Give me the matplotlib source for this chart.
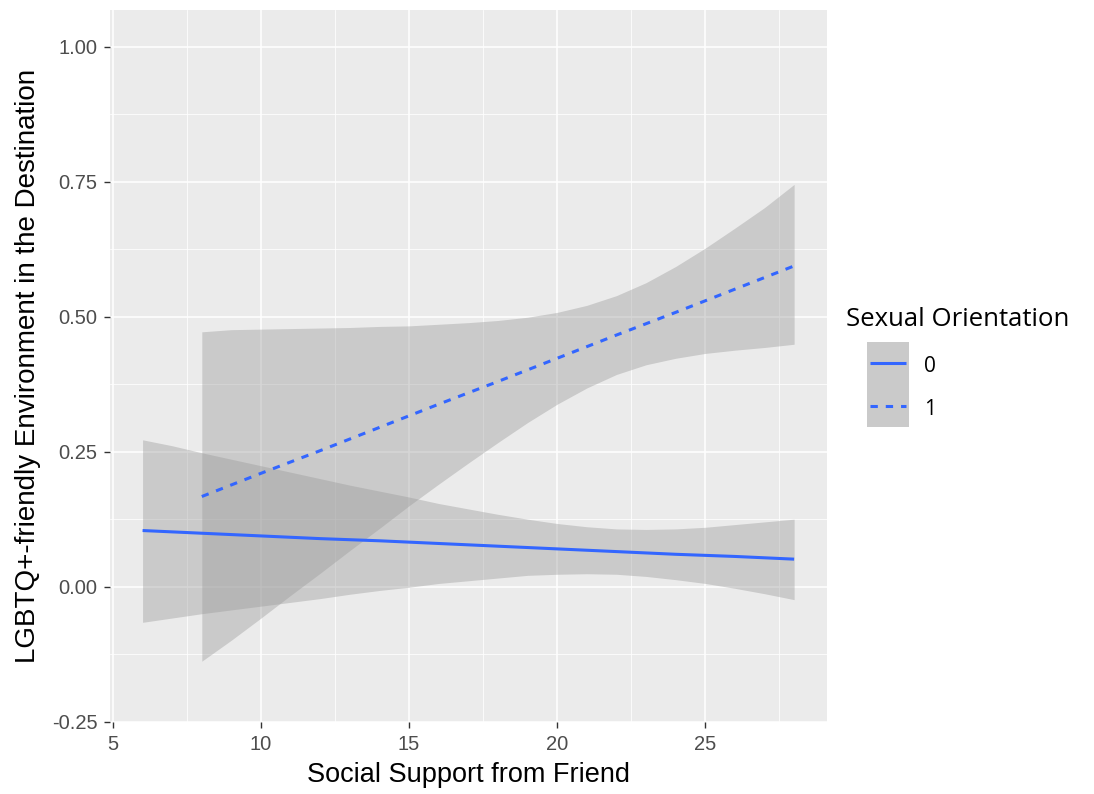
import matplotlib
matplotlib.use("Agg")
import matplotlib.pyplot as plt
from matplotlib.ticker import MultipleLocator, FixedLocator
from matplotlib.patches import Rectangle
from matplotlib.lines import Line2D

# Fitted values and 95% confidence band, sexual orientation = 0
friend_support_0 = [6, 7, 8, 9, 10, 11, 12, 13, 14, 15, 16, 17,
                    18, 19, 20, 21, 22, 23, 24, 25, 26, 27, 28]
fit_0 = [0.104, 0.1015, 0.099, 0.0965, 0.094, 0.0915, 0.089, 0.087, 0.085, 0.0825, 0.080, 0.0775,
         0.075, 0.0725, 0.070, 0.0675, 0.065, 0.0625, 0.060, 0.058, 0.056, 0.0535, 0.051]
upper_0 = [0.272, 0.261, 0.248, 0.236, 0.224, 0.212, 0.200, 0.188, 0.177, 0.166, 0.154, 0.144,
           0.134, 0.125, 0.117, 0.111, 0.107, 0.106, 0.107, 0.110, 0.115, 0.120, 0.125]
lower_0 = [-0.066, -0.058, -0.050, -0.043, -0.036, -0.029, -0.022, -0.014, -0.007, -0.001, 0.006, 0.011,
           0.016, 0.021, 0.023, 0.024, 0.023, 0.019, 0.013, 0.006, -0.003, -0.013, -0.024]

# Fitted values and 95% confidence band, sexual orientation = 1
friend_support_1 = [8, 9, 10, 11, 12, 13, 14, 15, 16, 17, 18,
                    19, 20, 21, 22, 23, 24, 25, 26, 27, 28]
fit_1 = [0.167, 0.1885, 0.210, 0.231, 0.252, 0.2735, 0.295, 0.3165, 0.338, 0.359, 0.380,
         0.4015, 0.423, 0.4445, 0.466, 0.487, 0.508, 0.5295, 0.551, 0.5725, 0.594]
upper_1 = [0.472, 0.476, 0.477, 0.478, 0.479, 0.480, 0.482, 0.483, 0.486, 0.489, 0.493,
           0.499, 0.508, 0.521, 0.539, 0.563, 0.593, 0.627, 0.664, 0.702, 0.745]
lower_1 = [-0.138, -0.099, -0.058, -0.016, 0.025, 0.067, 0.108, 0.150, 0.190, 0.229, 0.267,
           0.304, 0.338, 0.368, 0.393, 0.411, 0.423, 0.432, 0.438, 0.443, 0.449]

x_ticks = [5, 10, 15, 20, 25]
x_tick_labels = ["5", "10", "15", "20", "25"]
y_ticks = [-0.25, 0.0, 0.25, 0.50, 0.75, 1.00]
y_tick_labels = ["-0.25", "0.00", "0.25", "0.50", "0.75", "1.00"]
orientation_levels = ["0", "1"]

LINE = "#3366FF"
FILL = "#999999"
PANEL = "#EBEBEB"
W, H = 1094, 794

fig = plt.figure(figsize=(W / 100, H / 100), dpi=100)
fig.patch.set_facecolor("white")

left, right, top, bottom = 110, 826.7, 10, 722
ax = fig.add_axes([left / W, 1 - bottom / H, (right - left) / W, (bottom - top) / H])
ax.set_facecolor(PANEL)
for s in ax.spines.values():
    s.set_visible(False)

ax.set_xlim(4.9, 29.1)
ax.set_ylim(-0.2506, 1.068)

ax.xaxis.set_major_locator(FixedLocator(x_ticks))
ax.set_xticklabels(x_tick_labels)
ax.xaxis.set_minor_locator(MultipleLocator(2.5))
ax.yaxis.set_major_locator(FixedLocator(y_ticks))
ax.set_yticklabels(y_tick_labels)
ax.yaxis.set_minor_locator(MultipleLocator(0.125))

ax.set_axisbelow(True)
ax.grid(which="major", color="white", linewidth=1.1)
ax.grid(which="minor", color="white", linewidth=0.55)

ax.tick_params(which="major", length=4, width=1.0, color="#333333",
               labelcolor="#4D4D4D", labelsize=14.5, pad=5)
ax.tick_params(which="minor", length=0)
for lab in ax.get_xticklabels() + ax.get_yticklabels():
    lab.set_family("Liberation Sans")

# ribbons and fitted lines, drawn group by group
ax.fill_between(friend_support_0, lower_0, upper_0, color=FILL, alpha=0.4, linewidth=0)
ax.plot(friend_support_0, fit_0, color=LINE, linewidth=2.2, solid_capstyle="butt")
ax.fill_between(friend_support_1, lower_1, upper_1, color=FILL, alpha=0.4, linewidth=0)
ax.plot(friend_support_1, fit_1, color=LINE, linewidth=2.2,
        linestyle=(0, (2.4, 2.6)), dash_capstyle="butt")

ax.set_xlabel("Social Support from Friend", fontsize=19.5, family="Liberation Sans",
              color="black", labelpad=6)
ax.set_ylabel("LGBTQ+-friendly Environment in the Destination", fontsize=20,
              family="Liberation Sans", color="black", labelpad=8)

# legend
fig.text(846 / W, 1 - 320 / H, "Sexual Orientation", ha="left", va="center",
         fontsize=18.5, family="Open Sans", color="black")
kx0, kx1, ky0, ky1 = 867, 909, 342, 427
lax = fig.add_axes([kx0 / W, 1 - ky1 / H, (kx1 - kx0) / W, (ky1 - ky0) / H])
lax.set_xlim(0, 1)
lax.set_ylim(0, 2)
lax.axis("off")
styles = ["-", (0, (2.4, 2.6))]
for i, (lvl, ls) in enumerate(zip(orientation_levels, styles)):
    yc = 1.5 - i
    lax.add_patch(Rectangle((0, yc - 0.5), 1, 1, facecolor=PANEL, edgecolor="none"))
    lax.add_patch(Rectangle((0, yc - 0.5), 1, 1, facecolor=FILL, alpha=0.4, edgecolor="none"))
    lax.add_line(Line2D([0.08, 0.92], [yc, yc], color=LINE, linewidth=2.2,
                        linestyle=ls, solid_capstyle="butt", dash_capstyle="butt"))
    fig.text(924 / W, 1 - (366 + 44 * i) / H, lvl, ha="left", va="center",
             fontsize=15, family="Open Sans", color="black")

fig.savefig("out.png", dpi=100, facecolor="white")
